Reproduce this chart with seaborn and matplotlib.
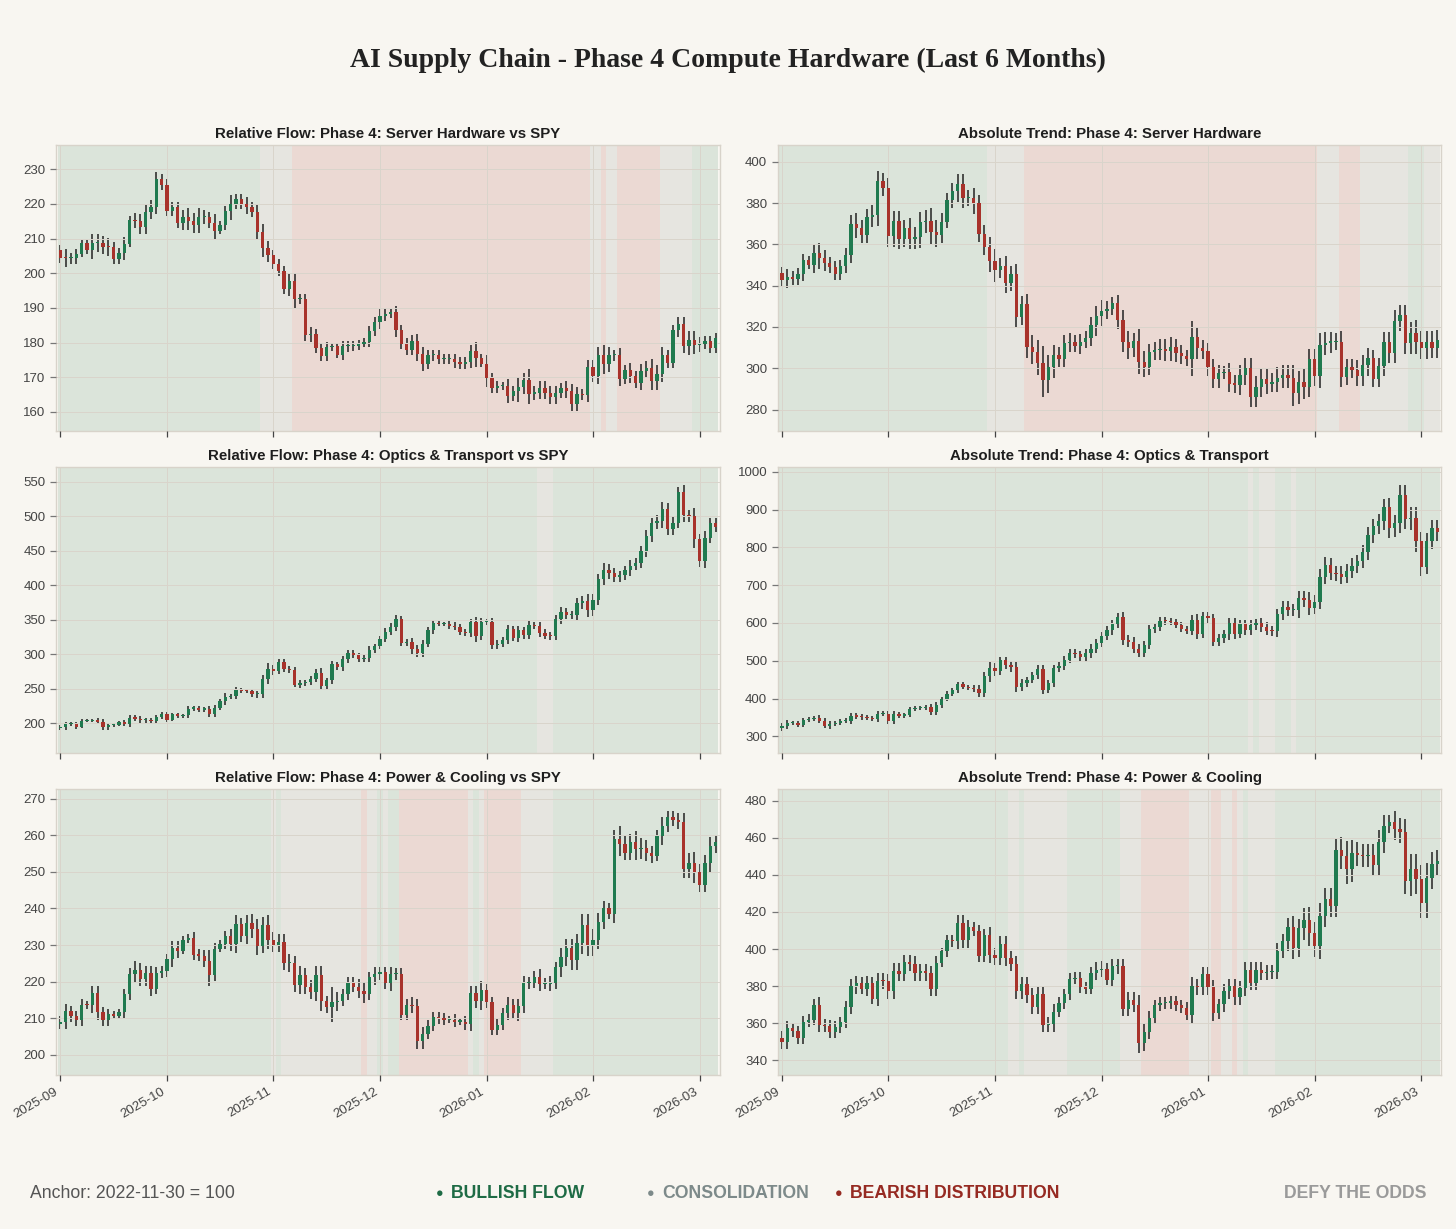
import numpy as np
import pandas as pd
import matplotlib
matplotlib.use("Agg")
import matplotlib.pyplot as plt
import seaborn as sns

# ---------------- data ----------------
month_labels = ["2025-09", "2025-10", "2025-11", "2025-12", "2026-01", "2026-02", "2026-03"]
month_tick_idx = [0, 20, 40, 60, 80, 100, 120]

panel_titles = [
    "Relative Flow: Phase 4: Server Hardware vs SPY",
    "Absolute Trend: Phase 4: Server Hardware",
    "Relative Flow: Phase 4: Optics & Transport vs SPY",
    "Absolute Trend: Phase 4: Optics & Transport",
    "Relative Flow: Phase 4: Power & Cooling vs SPY",
    "Absolute Trend: Phase 4: Power & Cooling",
]

# Server hardware vs SPY
sh_rel_open0 = 206.8
sh_rel_close = [
    204.5, 204.3, 204.3, 205.6, 208.7, 206.6, 208.7, 208.7, 207.7, 207.6,
    204.2, 205.8, 208.5, 215.5, 215.0, 213.4, 217.6, 219.0, 227.1, 225.6,
    217.9, 219.0, 214.5, 216.3, 215.0, 214.0, 216.3, 216.3, 214.5, 212.3,
    214.0, 218.0, 220.0, 221.5, 220.1, 219.2, 217.6, 211.8, 207.2, 205.3,
    202.6, 200.7, 195.4, 197.7, 192.5, 192.5, 182.1, 182.4, 178.5, 176.2,
    178.7, 179.0, 176.5, 178.9, 179.0, 179.0, 179.7, 180.2, 183.4, 185.9,
    187.7, 188.2, 188.7, 183.5, 179.7, 177.9, 180.6, 176.8, 173.9, 176.3,
    176.5, 175.2, 175.2, 175.3, 174.3, 173.9, 174.3, 177.7, 175.6, 173.9,
    169.8, 166.9, 167.4, 167.6, 164.7, 166.0, 167.1, 169.3, 165.3, 165.6,
    166.9, 165.6, 164.4, 165.6, 166.8, 166.1, 162.2, 165.1, 164.8, 172.9,
    170.5, 176.3, 173.9, 176.3, 176.5, 169.5, 172.1, 170.3, 168.4, 171.9,
    172.7, 168.8, 171.0, 176.3, 174.1, 183.5, 185.3, 179.0, 180.8, 179.2,
    179.7, 180.4, 178.5, 181.3,
]
sh_rel_wick = [
    1.5, 2.5, 1.5, 1.5, 1.0, 1.0, 2.5, 2.5, 2.0, 2.5,
    1.5, 1.5, 2.0, 1.0, 2.0, 2.0, 2.0, 2.0, 2.0, 1.5,
    1.5, 1.5, 1.5, 2.0, 2.5, 2.5, 2.5, 2.0, 1.5, 2.5,
    1.0, 1.5, 2.5, 1.5, 1.5, 2.0, 1.5, 2.0, 2.5, 2.0,
    1.5, 1.5, 1.5, 2.0, 2.5, 1.5, 1.5, 2.0, 1.5, 1.5,
    1.5, 1.0, 1.0, 1.5, 1.5, 1.5, 1.0, 1.0, 1.5, 1.5,
    2.0, 1.5, 1.0, 2.0, 1.5, 1.5, 1.5, 2.0, 2.0, 1.5,
    1.5, 1.5, 1.5, 1.5, 1.5, 1.5, 1.5, 1.5, 2.5, 1.0,
    2.5, 1.5, 1.5, 1.0, 2.0, 1.5, 3.0, 2.0, 3.0, 2.0,
    2.0, 2.0, 2.0, 2.0, 1.5, 2.0, 2.0, 2.0, 1.5, 2.0,
    2.0, 2.5, 3.0, 2.5, 1.5, 2.0, 1.5, 2.0, 1.5, 2.0,
    2.0, 2.5, 2.5, 2.5, 1.5, 1.5, 2.0, 2.0, 2.5, 2.5,
    2.0, 1.5, 1.5, 1.5,
]
sh_rel_regimes = [(0, 37, "bull"), (38, 43, "cons"), (44, 99, "bear"), (100, 101, "cons"),
                  (102, 102, "bear"), (103, 104, "cons"), (105, 112, "bear"),
                  (113, 118, "cons"), (119, 123, "bull")]

# Server hardware absolute
sh_abs_open0 = 346.0
sh_abs_close = [
    342.8, 344.1, 343.2, 345.4, 352.2, 350.1, 355.8, 353.2, 350.9, 349.0,
    345.6, 349.3, 355.0, 370.0, 368.0, 364.7, 373.3, 374.0, 390.6, 387.2,
    363.9, 371.2, 362.8, 367.8, 362.8, 363.4, 370.7, 371.4, 366.0, 364.7,
    371.0, 381.7, 385.7, 389.3, 382.5, 382.5, 379.8, 365.2, 358.7, 351.7,
    347.7, 349.3, 341.2, 345.6, 325.0, 330.9, 310.1, 307.9, 302.7, 294.2,
    300.4, 306.4, 304.7, 312.1, 312.9, 310.8, 312.7, 314.8, 320.8, 325.3,
    327.9, 328.6, 331.5, 323.2, 312.9, 309.6, 313.2, 303.2, 300.7, 307.9,
    308.8, 309.1, 308.5, 310.1, 307.2, 305.9, 304.3, 315.0, 309.6, 308.3,
    300.4, 294.6, 297.8, 298.3, 292.6, 292.1, 296.7, 299.9, 286.2, 291.0,
    294.6, 292.6, 293.5, 295.4, 296.7, 295.4, 287.8, 293.5, 291.0, 304.3,
    296.2, 311.3, 312.4, 312.7, 312.9, 295.9, 300.4, 299.1, 296.2, 301.4,
    304.8, 295.0, 301.0, 312.7, 307.5, 323.1, 325.8, 312.1, 317.3, 312.9,
    309.6, 312.9, 309.8, 313.7,
]
sh_abs_wick = [
    3, 4, 3, 3, 3, 2, 4, 5, 4, 3,
    3, 3, 3, 4, 5, 4, 4, 5, 5, 4,
    5, 5, 5, 4, 5, 5, 5, 5, 6, 6,
    4, 3, 4, 5, 5, 4, 5, 4, 4, 5,
    6, 4, 5, 4, 5, 4, 5, 6, 6, 8,
    6, 5, 4, 4, 4, 3, 4, 3, 4, 5,
    5, 4, 3, 4, 5, 5, 4, 6, 5, 4,
    4, 5, 5, 5, 4, 4, 3, 8, 5, 4,
    4, 4, 4, 3, 4, 4, 5, 5, 5, 5,
    5, 5, 4, 5, 5, 5, 6, 5, 6, 5,
    5, 6, 5, 5, 4, 5, 4, 4, 5, 5,
    5, 4, 4, 5, 5, 5, 5, 5, 5, 6,
    5, 5, 5, 5,
]
sh_abs_regimes = [(0, 38, "bull"), (39, 45, "cons"), (46, 100, "bear"), (101, 104, "cons"),
                  (105, 108, "bear"), (109, 117, "cons"), (118, 120, "bull"), (121, 123, "cons")]

# Optics & transport vs SPY
op_rel_open0 = 193.0
op_rel_close = [
    195.0, 198.5, 198.5, 195.0, 203.5, 203.5, 204.5, 201.8, 195.0, 197.0,
    198.0, 201.4, 199.0, 208.2, 206.8, 204.3, 204.3, 202.9, 209.2, 213.6,
    204.8, 213.1, 210.2, 212.1, 221.4, 221.4, 219.9, 220.4, 213.1, 222.8,
    231.6, 238.4, 239.9, 248.1, 247.2, 246.2, 242.3, 242.3, 264.2, 278.8,
    275.4, 288.6, 277.9, 277.4, 255.9, 257.9, 259.3, 264.2, 273.5, 254.0,
    262.0, 285.2, 281.3, 292.5, 301.7, 298.3, 293.4, 294.4, 305.6, 311.4,
    322.6, 332.4, 339.7, 350.4, 316.3, 317.3, 307.0, 301.7, 315.0, 334.8,
    344.5, 343.6, 343.6, 341.0, 339.7, 332.4, 330.0, 346.4, 326.0, 347.0,
    347.0, 312.9, 315.3, 320.2, 335.8, 323.6, 334.8, 327.5, 342.0, 341.0,
    331.0, 327.0, 326.0, 350.4, 361.1, 356.7, 356.7, 373.8, 377.0, 364.0,
    378.6, 408.8, 422.4, 417.6, 411.7, 414.2, 421.4, 428.3, 432.2, 449.2,
    471.1, 489.6, 493.0, 510.0, 480.9, 490.6, 534.4, 501.3, 499.4, 466.3,
    434.6, 468.7, 489.6, 484.3,
]
op_rel_wick = [
    3, 4, 3, 3, 2, 2, 2, 3, 4, 4,
    2, 2, 3, 4, 4, 4, 4, 3, 3, 3,
    3, 2, 2, 2, 4, 3, 3, 3, 4, 4,
    3, 5, 3, 4, 3, 3, 4, 5, 6, 8,
    5, 4, 4, 5, 4, 5, 4, 4, 5, 6,
    4, 5, 4, 5, 5, 4, 4, 5, 6, 4,
    4, 5, 5, 6, 5, 5, 6, 6, 5, 4,
    5, 3, 3, 4, 5, 4, 4, 5, 8, 6,
    4, 5, 6, 5, 6, 5, 6, 5, 6, 5,
    6, 5, 5, 6, 7, 6, 6, 7, 8, 10,
    8, 7, 9, 8, 7, 7, 7, 8, 7, 8,
    9, 8, 9, 10, 9, 8, 8, 10, 8, 12,
    8, 10, 8, 7,
]
op_rel_regimes = [(0, 89, "bull"), (90, 92, "cons"), (93, 123, "bull")]

# Optics & transport absolute
op_abs_open0 = 322.0
op_abs_close = [
    326.6, 334.6, 334.6, 330.1, 343.6, 345.2, 349.6, 341.6, 328.4, 332.8,
    334.6, 339.9, 341.7, 354.9, 352.3, 350.0, 349.0, 346.0, 359.4, 360.2,
    341.7, 359.4, 354.9, 356.7, 372.7, 375.3, 375.3, 377.1, 363.8, 381.5,
    399.3, 412.6, 421.4, 437.4, 430.0, 428.0, 426.0, 415.2, 458.6, 481.7,
    471.9, 501.0, 487.9, 483.4, 430.0, 441.0, 448.0, 461.0, 478.0, 423.0,
    441.0, 480.0, 486.0, 503.0, 521.0, 517.0, 510.0, 520.0, 532.0, 546.0,
    565.0, 581.0, 597.0, 616.0, 555.0, 550.0, 532.0, 521.0, 543.0, 583.0,
    590.0, 605.0, 604.0, 603.0, 595.0, 585.0, 579.0, 608.0, 572.0, 618.0,
    612.0, 550.0, 560.0, 570.0, 599.0, 572.0, 597.0, 581.0, 594.0, 599.0,
    590.0, 579.0, 578.0, 623.0, 643.0, 634.0, 634.0, 665.0, 662.0, 641.0,
    656.0, 723.0, 754.0, 732.0, 730.0, 723.0, 738.0, 751.0, 763.0, 789.0,
    833.0, 856.0, 869.0, 906.0, 851.0, 864.0, 940.0, 875.0, 878.0, 816.0,
    749.0, 818.0, 851.0, 840.0,
]
op_abs_wick = [
    8, 8, 6, 6, 6, 5, 5, 6, 6, 8,
    6, 5, 6, 8, 6, 7, 7, 6, 8, 7,
    8, 8, 6, 6, 6, 6, 5, 6, 8, 8,
    6, 6, 6, 6, 6, 6, 8, 10, 12, 15,
    12, 10, 10, 12, 12, 10, 10, 8, 10, 12,
    8, 10, 10, 10, 10, 10, 10, 12, 12, 12,
    10, 10, 12, 10, 12, 14, 12, 12, 10, 12,
    10, 10, 10, 8, 8, 8, 8, 12, 15, 12,
    12, 12, 12, 12, 15, 14, 12, 12, 14, 12,
    14, 12, 12, 15, 15, 15, 15, 20, 20, 20,
    18, 20, 20, 18, 18, 20, 18, 20, 18, 18,
    22, 20, 20, 22, 25, 22, 25, 25, 30, 28,
    25, 20, 22, 22,
]
op_abs_regimes = [(0, 87, "bull"), (88, 88, "cons"), (89, 89, "bull"), (90, 92, "cons"),
                  (93, 95, "bull"), (96, 96, "cons"), (97, 123, "bull")]

# Power & cooling vs SPY
pc_rel_open0 = 208.5
pc_rel_close = [
    209.0, 211.9, 210.5, 209.4, 213.7, 213.5, 216.8, 211.6, 209.5, 211.1,
    210.7, 211.6, 216.6, 222.1, 223.2, 220.8, 222.3, 218.1, 222.4, 222.8,
    226.1, 229.2, 228.5, 231.5, 232.0, 227.4, 227.1, 225.6, 221.7, 229.0,
    230.3, 232.4, 230.3, 235.8, 232.4, 236.1, 234.5, 229.7, 235.6, 231.5,
    230.1, 230.9, 225.1, 225.1, 219.2, 221.7, 218.5, 217.2, 221.7, 214.6,
    213.0, 214.4, 214.8, 216.6, 219.7, 218.6, 217.5, 216.6, 221.2, 222.0,
    222.6, 219.5, 222.0, 222.1, 211.0, 213.7, 213.3, 203.7, 205.7, 208.0,
    210.3, 210.0, 209.6, 209.6, 209.1, 209.1, 208.4, 216.9, 214.8, 217.8,
    214.4, 206.9, 208.2, 211.4, 213.7, 211.3, 213.3, 219.5, 219.7, 221.4,
    219.4, 219.4, 219.6, 223.9, 226.7, 229.2, 225.8, 230.6, 235.6, 230.0,
    231.3, 236.3, 240.0, 238.6, 258.9, 257.7, 255.2, 258.2, 256.1, 256.6,
    255.0, 254.4, 259.8, 262.5, 265.0, 264.1, 263.6, 250.7, 252.5, 250.0,
    246.5, 252.5, 257.0, 258.0,
]
pc_rel_wick = [
    1.5, 2.0, 1.5, 1.5, 1.5, 1.0, 2.0, 2.0, 1.5, 1.5,
    1.0, 1.0, 1.5, 1.5, 2.5, 2.0, 2.0, 2.0, 1.5, 1.5,
    1.5, 2.0, 2.0, 1.0, 1.0, 1.5, 1.5, 1.5, 3.0, 1.5,
    1.0, 1.5, 2.0, 2.5, 1.5, 2.0, 2.5, 2.5, 2.0, 2.5,
    2.0, 2.0, 2.0, 2.5, 2.0, 2.5, 2.0, 2.0, 2.5, 2.5,
    1.5, 4.0, 2.5, 1.5, 1.5, 1.5, 2.0, 2.5, 1.5, 2.0,
    1.5, 1.5, 2.0, 1.5, 1.5, 1.5, 2.0, 2.0, 2.0, 1.5,
    1.5, 1.5, 1.5, 1.0, 1.5, 1.0, 1.5, 2.0, 2.0, 2.5,
    1.5, 1.5, 1.5, 1.5, 2.0, 1.5, 2.0, 2.0, 1.5, 1.5,
    2.0, 1.5, 2.0, 1.5, 2.5, 2.5, 2.5, 2.5, 3.0, 3.0,
    3.0, 2.5, 2.0, 1.5, 2.5, 3.5, 2.0, 2.0, 3.0, 2.5,
    2.0, 2.0, 1.5, 2.5, 1.5, 1.5, 2.0, 2.5, 2.5, 3.0,
    2.0, 2.0, 2.5, 2.0,
]
pc_rel_regimes = [(0, 39, "bull"), (40, 40, "cons"), (41, 41, "bull"), (42, 56, "cons"),
                  (57, 57, "bear"), (58, 59, "cons"), (60, 60, "bull"), (61, 61, "cons"),
                  (62, 63, "bull"), (64, 76, "bear"), (77, 77, "cons"), (78, 78, "bull"),
                  (79, 79, "cons"), (80, 86, "bear"), (87, 92, "cons"), (93, 123, "bull")]

# Power & cooling absolute
pc_abs_open0 = 352.0
pc_abs_close = [
    350.0, 357.3, 355.6, 352.0, 360.9, 361.8, 370.0, 359.1, 358.5, 355.3,
    358.0, 360.5, 369.0, 379.9, 381.7, 378.6, 381.7, 373.2, 382.9, 382.6,
    377.2, 388.4, 386.6, 393.0, 392.0, 387.0, 388.0, 387.0, 378.6, 392.5,
    398.8, 404.8, 404.2, 414.2, 404.8, 411.8, 410.0, 396.1, 407.8, 396.7,
    395.2, 402.8, 395.0, 392.0, 377.2, 381.1, 375.0, 369.0, 375.7, 359.1,
    359.5, 366.3, 370.9, 375.7, 384.0, 384.5, 379.3, 378.6, 387.1, 388.9,
    389.4, 383.5, 390.7, 390.7, 367.8, 372.6, 370.0, 349.2, 355.5, 362.7,
    369.6, 370.9, 370.9, 371.9, 369.6, 368.5, 364.5, 379.9, 379.3, 386.6,
    379.3, 365.4, 370.3, 377.2, 379.9, 373.9, 378.9, 388.9, 381.7, 388.9,
    387.1, 387.6, 387.6, 399.2, 404.2, 411.8, 400.6, 411.1, 415.9, 408.7,
    401.5, 417.8, 426.8, 423.2, 453.3, 450.2, 443.0, 452.0, 450.8, 450.2,
    450.8, 445.4, 458.0, 466.5, 468.3, 464.7, 463.4, 436.7, 443.0, 437.6,
    425.0, 438.5, 446.1, 447.5,
]
pc_abs_wick = [
    4, 4, 3, 3, 3, 3, 3, 4, 3, 3,
    3, 3, 3, 4, 4, 3, 4, 3, 4, 4,
    4, 4, 4, 4, 4, 4, 4, 4, 4, 4,
    2, 3, 3, 4, 4, 4, 3, 3, 3, 4,
    4, 4, 4, 4, 4, 4, 4, 4, 4, 4,
    4, 4, 3, 3, 3, 3, 3, 3, 3, 4,
    4, 3, 4, 4, 4, 4, 4, 5, 4, 4,
    3, 3, 3, 3, 3, 3, 3, 5, 4, 4,
    4, 4, 3, 4, 4, 4, 4, 4, 4, 4,
    4, 4, 4, 4, 4, 5, 6, 5, 6, 7,
    6, 7, 6, 6, 6, 7, 8, 7, 6, 6,
    6, 6, 6, 6, 4, 6, 6, 7, 8, 8,
    8, 8, 6, 6,
]
pc_abs_regimes = [(0, 42, "bull"), (43, 44, "cons"), (45, 45, "bull"), (46, 53, "cons"),
                  (54, 63, "bull"), (64, 67, "cons"), (68, 76, "bear"), (77, 80, "cons"),
                  (81, 82, "bear"), (83, 84, "cons"), (85, 85, "bear"), (86, 86, "cons"),
                  (87, 87, "bull"), (88, 92, "cons"), (93, 123, "bull")]

y_limits = [(154.5, 237.0), (269.6, 408.1), (157.0, 571.0), (255.7, 1013.0), (194.5, 272.6), (332.1, 486.3)]
y_ticks = [np.arange(160, 231, 10), np.arange(280, 401, 20), np.arange(200, 551, 50),
           np.arange(300, 1001, 100), np.arange(200, 271, 10), np.arange(340, 481, 20)]

panels = [
    (sh_rel_open0, sh_rel_close, sh_rel_wick, sh_rel_regimes),
    (sh_abs_open0, sh_abs_close, sh_abs_wick, sh_abs_regimes),
    (op_rel_open0, op_rel_close, op_rel_wick, op_rel_regimes),
    (op_abs_open0, op_abs_close, op_abs_wick, op_abs_regimes),
    (pc_rel_open0, pc_rel_close, pc_rel_wick, pc_rel_regimes),
    (pc_abs_open0, pc_abs_close, pc_abs_wick, pc_abs_regimes),
]

# ---------------- style ----------------
BG = "#f8f6f1"
REGIME_COLORS = {"bull": "#dbe4da", "cons": "#e6e5e0", "bear": "#ebd9d3"}
UP = "#1f7a4f"
DOWN = "#a8322b"
WICK = "#222222"

sns.set_theme(style="whitegrid", rc={
    "figure.facecolor": BG,
    "axes.facecolor": BG,
    "axes.edgecolor": "#d8d3ca",
    "axes.linewidth": 1.0,
    "grid.color": "#d9d4cb",
    "grid.linewidth": 0.7,
    "xtick.bottom": True,
    "ytick.left": True,
    "xtick.major.size": 4,
    "ytick.major.size": 4,
    "xtick.major.width": 0.9,
    "ytick.major.width": 0.9,
    "xtick.color": "#444444",
    "ytick.color": "#777777",
    "xtick.labelcolor": "#444444",
    "ytick.labelcolor": "#444444",
})
plt.rcParams["font.family"] = ["Liberation Sans", "DejaVu Sans"]

fig, axes = plt.subplots(3, 2, figsize=(14.56, 12.29), dpi=100)
fig.subplots_adjust(left=0.0385, right=0.990, top=0.882, bottom=0.1253, wspace=0.087, hspace=0.126)

for k, ax in enumerate(axes.flat):
    open0, closes, wicks, regimes = panels[k]
    df = pd.DataFrame({"close": closes, "wick": wicks})
    df["x"] = np.arange(len(df))
    df["open"] = df["close"].shift(1).fillna(open0)
    df["top"] = df[["open", "close"]].max(axis=1)
    df["bot"] = df[["open", "close"]].min(axis=1)
    df["high"] = df["top"] + df["wick"]
    df["low"] = df["bot"] - df["wick"]
    df["dir"] = np.where(df["close"] >= df["open"], "up", "down")

    ylo, yhi = y_limits[k]
    min_body = (yhi - ylo) * 0.004

    for s, e, r in regimes:
        ax.axvspan(s - 0.5, e + 0.5, color=REGIME_COLORS[r], lw=0, zorder=0.1)

    ax.vlines(df["x"], df["low"], df["high"], color=WICK, lw=1.1, zorder=2)
    heights = np.maximum(df["top"] - df["bot"], min_body)
    colors = df["dir"].map({"up": UP, "down": DOWN})
    ax.bar(df["x"], heights, bottom=df["bot"], width=0.62, color=colors, lw=0, zorder=3)

    ax.set_xlim(-0.8, len(df) - 0.2)
    ax.set_ylim(ylo, yhi)
    ax.set_yticks(y_ticks[k])
    ax.set_xticks(month_tick_idx)
    ax.grid(True)
    ax.set_axisbelow(False)
    for gl in ax.get_xgridlines() + ax.get_ygridlines():
        gl.set_zorder(0.5)
    ax.tick_params(axis="y", labelsize=9.5, length=4)
    ax.tick_params(axis="x", labelsize=9.5, length=4)
    if k >= 4:
        ax.set_xticklabels(month_labels, rotation=30, ha="right")
    else:
        ax.set_xticklabels([])
    ax.set_title(panel_titles[k], fontsize=10.8, fontweight="bold", color="#1e1e1e", pad=5)
    for sp in ax.spines.values():
        sp.set_color("#d8d3ca")

fig.text(0.5, 1 - 60 / 1229, "AI Supply Chain - Phase 4 Compute Hardware (Last 6 Months)",
         ha="center", va="center", fontsize=20, fontweight="bold",
         family=["Liberation Serif", "DejaVu Serif"], color="#222222")

fy = 1 - 1194 / 1229
fig.text(30 / 1456, fy, "Anchor: 2022-11-30 = 100", ha="left", va="center", fontsize=12.7, color="#555555")
legend_items = [(440, 451, "BULLISH FLOW", "#1e6b45"),
                (651, 662, "CONSOLIDATION", "#7d8a8a"),
                (839, 850, "BEARISH DISTRIBUTION", "#962a22")]
for dx, tx, label, col in legend_items:
    fig.text(dx / 1456, fy, "\u25CF", ha="center", va="center", fontsize=9, color=col)
    fig.text(tx / 1456, fy, label, ha="left", va="center", fontsize=12.7, fontweight="bold", color=col)
fig.text(1427 / 1456, fy, "DEFY THE ODDS", ha="right", va="center", fontsize=12.7,
         fontweight="bold", color="#9a9a9a")

fig.savefig("out.png", dpi=100, facecolor=BG)
